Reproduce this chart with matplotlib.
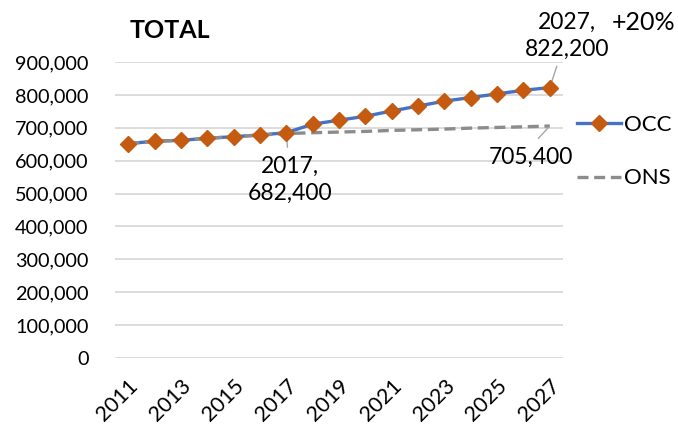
import matplotlib
matplotlib.use("Agg")
import matplotlib.pyplot as plt
from matplotlib.lines import Line2D
from matplotlib.ticker import FuncFormatter
from matplotlib.transforms import ScaledTranslation

plt.rcParams['font.family'] = ['Lato', 'DejaVu Sans']

years = list(range(2011, 2028))
occ = [652000, 659000, 662000, 668000, 673000, 678000, 685000, 711000, 723000,
       735000, 751000, 766000, 781000, 792000, 803000, 814000, 822200]
ons = [652000, 659000, 662000, 668000, 673000, 678000, 682400, 685000, 687000,
       689000, 692000, 694000, 696000, 699000, 701000, 703000, 705400]

blue = '#4472C4'
orange = '#C55A11'
grey = '#8C8C8C'

fig = plt.figure(figsize=(6.78, 4.3), dpi=100)
ax = fig.add_axes([115/678, 1-358/430, 448/678, 296/430])

x = list(range(len(years)))
ax.plot(x, occ, color=blue, lw=2.4, zorder=2)
ax.plot(x, ons, color=grey, lw=2.4, dashes=(3.3, 1.7), zorder=3)
ax.plot(x, occ, ls='none', marker='D', ms=8, color=orange, zorder=4)

ax.set_xlim(-0.5, len(years) - 0.5)
ax.set_ylim(0, 900000)
ax.set_yticks(range(0, 900001, 100000))
ax.yaxis.set_major_formatter(FuncFormatter(lambda v, p: f"{v:,.0f}"))
ax.set_xticks(x[::2])
ax.set_xticklabels([str(y) for y in years[::2]], rotation=45, ha='right',
                   va='top', rotation_mode='anchor')
for lab in ax.get_xticklabels():
    lab.set_transform(lab.get_transform() + ScaledTranslation(6/100, 0, fig.dpi_scale_trans))
ax.tick_params(axis='both', length=0, colors='black')
ax.tick_params(axis='y', pad=19, labelsize=14.3)
ax.tick_params(axis='x', pad=13, labelsize=15.5)
ax.grid(axis='y', color='#D9D9D9', lw=1.3)
ax.set_axisbelow(True)
for s in ax.spines.values():
    s.set_visible(False)

fig.text(130/678, 1-30/430, 'TOTAL', fontsize=18, fontweight='bold', va='center', ha='left')

lead = dict(arrowstyle='-', color='#A6A6A6', lw=1)
ax.annotate('2017,\n682,400', xy=(6, ons[6]), xytext=(4, -46), textcoords='offset pixels',
            ha='center', va='center', fontsize=16.5, linespacing=1.35,
            arrowprops=dict(lead, shrinkA=4, shrinkB=0))
ax.annotate('2027,\n822,200', xy=(16, occ[16]), xytext=(17, 52), textcoords='offset pixels',
            ha='center', va='center', fontsize=16.5, linespacing=1.35,
            arrowprops=dict(lead, shrinkA=3, shrinkB=0))
ax.annotate('705,400', xy=(16, ons[16]), xytext=(-19, -31), textcoords='offset pixels',
            ha='center', va='center', fontsize=16.5,
            arrowprops=dict(lead, relpos=(0.5, 1.0), patchA=None, shrinkA=8, shrinkB=1))
fig.text(612/678, 1-23/430, '+20%', fontsize=18, va='center', ha='left')

handles = [Line2D([], [], color=blue, lw=2.4, marker='D', ms=8, mfc=orange, mec=orange),
           Line2D([], [], color=grey, lw=2.4, dashes=(3.3, 1.7))]
fig.legend(handles, ['OCC', 'ONS'], loc='upper left', bbox_to_anchor=(577/678, 1-115/430),
           frameon=False, fontsize=16, handlelength=2.0, handletextpad=0.12,
           labelspacing=1.5, borderaxespad=0, borderpad=0)

fig.savefig('out.png', dpi=100)
